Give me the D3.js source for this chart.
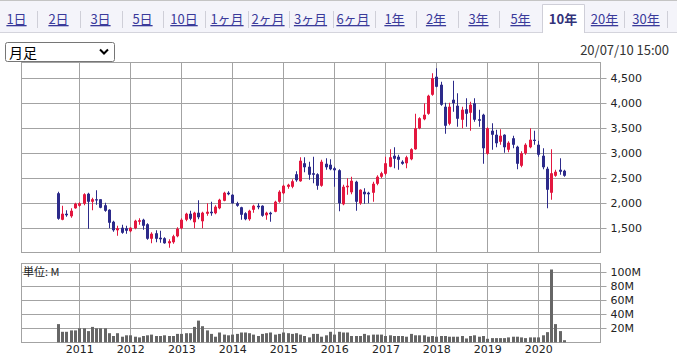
<!DOCTYPE html>
<html><head><meta charset="utf-8">
<script src="https://cdn.jsdelivr.net/npm/d3@7"></script>
<style>body{margin:0;background:#fff;overflow:hidden}svg{display:block}</style>
</head><body>
<svg id="c" width="677" height="355"></svg>
<script>
const months = [
 "2010-08","2010-09","2010-10","2010-11","2010-12",
 "2011-01","2011-02","2011-03","2011-04","2011-05","2011-06","2011-07","2011-08","2011-09","2011-10","2011-11","2011-12",
 "2012-01","2012-02","2012-03","2012-04","2012-05","2012-06","2012-07","2012-08","2012-09","2012-10","2012-11","2012-12",
 "2013-01","2013-02","2013-03","2013-04","2013-05","2013-06","2013-07","2013-08","2013-09","2013-10","2013-11","2013-12",
 "2014-01","2014-02","2014-03","2014-04","2014-05","2014-06","2014-07","2014-08","2014-09","2014-10","2014-11","2014-12",
 "2015-01","2015-02","2015-03","2015-04","2015-05","2015-06","2015-07","2015-08","2015-09","2015-10","2015-11","2015-12",
 "2016-01","2016-02","2016-03","2016-04","2016-05","2016-06","2016-07","2016-08","2016-09","2016-10","2016-11","2016-12",
 "2017-01","2017-02","2017-03","2017-04","2017-05","2017-06","2017-07","2017-08","2017-09","2017-10","2017-11","2017-12",
 "2018-01","2018-02","2018-03","2018-04","2018-05","2018-06","2018-07","2018-08","2018-09","2018-10","2018-11","2018-12",
 "2019-01","2019-02","2019-03","2019-04","2019-05","2019-06","2019-07","2019-08","2019-09","2019-10","2019-11","2019-12",
 "2020-01","2020-02","2020-03","2020-04","2020-05","2020-06","2020-07"];

const open = [
 2200,1670,1790,1740,1900,
 1950,1990,2190,2030,2080,2080,1960,1870,1630,1460,1510,1500,
 1440,1500,1630,1670,1580,1290,1400,1310,1300,1200,1220,1340,
 1500,1670,1790,1620,1810,1640,1790,1830,1800,1900,2050,2210,
 2170,2000,1920,1800,1680,1870,1950,1950,1760,1810,1830,2030,
 2200,2330,2330,2580,2440,2800,2730,2600,2580,2350,2790,2770,
 2700,2660,1980,2320,2220,2430,2000,2230,2210,2210,2390,2530,
 2590,2730,2950,2930,2830,2800,2880,3080,3500,3680,3790,4170,
 4530,4370,3930,3590,4070,3950,3670,3880,3810,4000,3680,3770,
 2990,3450,3370,3230,3370,3070,3300,3130,2750,3000,3120,3270,
 3170,2950,2690,2210,2550,2670,2650];
const high = [
 2230,1950,1860,1900,2010,
 2020,2200,2210,2110,2260,2080,2010,1880,1650,1550,1570,1550,
 1520,1670,1700,1690,1600,1420,1460,1450,1320,1280,1370,1520,
 1700,1810,1850,1830,2060,1830,2000,2030,1960,2090,2230,2240,
 2180,2030,1930,1820,1870,1970,2000,1960,1830,1830,2050,2260,
 2370,2390,2480,2640,2920,2920,2830,2930,2600,2870,2900,2880,
 2730,2680,2370,2500,2530,2450,2280,2300,2230,2430,2560,2630,
 2930,3080,3120,2970,2860,2950,3100,3790,3720,4000,4170,4600,
 4700,4430,4010,4010,4450,4200,3930,4100,4030,4100,3870,3790,
 3520,3600,3470,3480,3380,3240,3350,3150,3040,3200,3500,3450,
 3250,3100,2730,3080,2670,2900,2670];
const low = [
 1670,1660,1730,1710,1890,
 1930,1960,1490,1860,1970,1900,1830,1500,1430,1350,1390,1390,
 1420,1480,1570,1470,1270,1200,1220,1210,1190,1110,1190,1320,
 1480,1640,1660,1500,1680,1500,1750,1750,1780,1880,2040,2160,
 1990,1930,1670,1660,1650,1810,1880,1730,1670,1630,1820,2010,
 2180,2290,2300,2430,2430,2620,2470,2400,2270,2330,2670,2660,
 2330,1840,1960,2170,2180,1850,1970,1990,2000,2030,2360,2500,
 2560,2720,2700,2670,2770,2700,2860,3070,3480,3660,3770,4150,
 4320,3950,3390,3560,3830,3530,3500,3530,3450,3630,3530,2790,
 2970,3070,3120,3170,3010,3020,3100,2680,2720,2970,3100,3170,
 2930,2680,1900,2070,2530,2570,2530];
const close = [
 1690,1790,1760,1850,1990,
 2000,2180,2030,2080,2060,1910,1850,1610,1460,1500,1410,1450,
 1510,1650,1660,1550,1290,1390,1290,1280,1200,1240,1340,1490,
 1670,1790,1690,1810,1720,1810,1830,1800,1930,2070,2210,2180,
 2000,1950,1770,1680,1850,1950,1920,1750,1810,1780,2030,2230,
 2350,2370,2440,2460,2850,2720,2570,2570,2350,2830,2720,2680,
 2660,2000,2330,2350,2450,2030,2270,2180,2180,2390,2530,2600,
 2800,2920,2890,2870,2790,2920,3080,3500,3700,3770,4150,4500,
 4330,3970,3550,3930,4000,3690,3870,3790,3970,3670,3650,3100,
 3500,3370,3200,3350,3120,3210,3170,2790,3000,3170,3270,3250,
 2970,2720,2270,2600,2630,2630,2550];
const volume = [ // millions of shares
 26,15,15,17,17,
 20,20,16,22,20,20,20,13,9,13,8,10,
 10,8,7,9,10,11,9,9,10,9,9,12,
 12,13,13,22,31,23,17,12,8,14,11,10,
 11,12,14,14,13,11,9,12,13,14,11,12,
 14,13,12,13,11,9,7,12,12,8,10,15,
 11,15,14,14,9,9,9,12,10,11,11,11,
 9,10,9,9,9,8,12,10,10,10,8,9,
 8,9,9,8,8,8,9,5.5,9,10,8,9,
 5,6,6,6,6,7,8,8,7,6,7,7,
 7,10,14.5,104,26,16,3];

const priceTicks = [1500,2000,2500,3000,3500,4000,4500];
const volTicks = [20,40,60,80,100];
const yearTicks = ["2011","2012","2013","2014","2015","2016","2017","2018","2019","2020"];
const tabs = ["1日","2日","3日","5日","10日","1ヶ月","2ヶ月","3ヶ月","6ヶ月","1年","2年","3年","5年","10年","20年","30年"];
const activeTab = "10年";
const stamp = "20/07/10 15:00";
const periodLabel = "月足";
const unitLabel = "単位: M";

const parseM = d3.timeParse("%Y-%m");
const parseY = d3.timeParse("%Y");
const data = months.map((m,i)=>({d:parseM(m),o:open[i],h:high[i],l:low[i],c:close[i],v:volume[i]}));

const svg = d3.select("#c");
const FONT_JP = "'Noto Sans CJK JP','Noto Sans',sans-serif";
const FONT_AX = "'DejaVu Sans',sans-serif";
const GRID = "#a3a3a3";

// ---- tab bar ----
svg.append("rect").attr("x",0).attr("y",0).attr("width",677).attr("height",32).attr("fill","#f4f4fa");
svg.append("line").attr("x1",0).attr("x2",677).attr("y1",0.5).attr("y2",0.5).attr("stroke","#c4c4c4");
svg.append("line").attr("x1",0).attr("x2",677).attr("y1",32.5).attr("y2",32.5).attr("stroke","#d4d4dc");
const tabCenters = [16.5,58.5,100.5,142.5,184,227,268,310.5,353,394.5,436,478.5,520.5,563,604.5,646];
const seps = [37,80,122,163,205,248,289,333,375,416,458,499,624,667];
svg.selectAll("line.sep").data(seps).join("line").attr("class","sep")
  .attr("x1",d=>d+0.5).attr("x2",d=>d+0.5).attr("y1",11).attr("y2",28).attr("stroke","#cfcfd8");
svg.append("path").attr("d","M542.5,33 V4.5 H584.5 V33").attr("fill","#fff").attr("stroke","#cfcfd8");
svg.append("rect").attr("x",543).attr("y",5).attr("width",41).attr("height",29).attr("fill","#fff");
svg.selectAll("text.tab").data(tabs).join("text").attr("class","tab")
  .attr("x",(d,i)=>tabCenters[i]).attr("y",24).attr("text-anchor","middle")
  .attr("font-family",FONT_JP).attr("font-size",13)
  .attr("font-weight",d=>d===activeTab?"bold":"normal")
  .attr("fill",d=>d===activeTab?"#33337a":"#3a3a9a")
  .attr("text-decoration",d=>d===activeTab?"none":"underline")
  .text(d=>d);

// ---- select box & timestamp ----
svg.append("rect").attr("x",5.5).attr("y",42.5).attr("width",109).attr("height",19).attr("rx",2)
  .attr("fill","#fff").attr("stroke","#767676");
svg.append("text").attr("x",9).attr("y",57.5).attr("font-family",FONT_JP).attr("font-size",14).attr("fill","#000").text(periodLabel);
svg.append("path").attr("d","M100,49.5 L104,53.5 L108,49.5").attr("fill","none").attr("stroke","#000").attr("stroke-width",2);
svg.append("text").attr("x",669).attr("y",55).attr("text-anchor","end").attr("font-family",FONT_JP)
  .attr("font-size",13).attr("fill","#333").text(stamp);

// ---- scales ----
const L=21.5, R=600.5, PT=62.5, PB=252.5, VT=263.5, VB=342.5;
const x = d3.scaleTime().domain([parseY("2011"),parseY("2020")]).range([79.3,538.3]);
const yP = d3.scaleLinear().domain([1025,4825]).range([252,62]);
const yV = d3.scaleLinear().domain([0,112.86]).range([342.3,263.3]);
const snap = v=>Math.floor(v)+0.5;

// ---- price panel grid ----
const gP = svg.append("g");
gP.selectAll("line.h").data(priceTicks).join("line").attr("x1",L).attr("x2",R)
  .attr("y1",d=>snap(yP(d))).attr("y2",d=>snap(yP(d))).attr("stroke",GRID);
gP.selectAll("line.v").data(yearTicks).join("line").attr("y1",PT).attr("y2",PB)
  .attr("x1",d=>snap(x(parseY(d)))).attr("x2",d=>snap(x(parseY(d)))).attr("stroke",GRID);
gP.append("rect").attr("x",L).attr("y",PT).attr("width",R-L).attr("height",PB-PT).attr("fill","none").attr("stroke",GRID);

// price axis
const axP = svg.append("g").attr("transform",`translate(${R},0)`)
  .call(d3.axisRight(yP).tickValues(priceTicks).tickSize(6).tickPadding(4).tickFormat(d3.format(",")));
axP.select(".domain").remove();
axP.selectAll(".tick").attr("transform",d=>`translate(0,${snap(yP(d))})`);
axP.selectAll(".tick line").attr("stroke",GRID);
axP.selectAll(".tick text").attr("font-family",FONT_AX).attr("font-size",11).attr("fill","#222");

// candles
const red="#e3173f", blue="#2c2a8a";
const cg = svg.append("g");
data.forEach(d=>{
  const cx = Math.round(x(d.d));
  const col = d.c>=d.o ? red : blue;
  cg.append("line").attr("x1",cx+0.5).attr("x2",cx+0.5).attr("y1",yP(d.h)).attr("y2",yP(d.l))
    .attr("stroke",col).attr("stroke-width",1);
  const top = yP(Math.max(d.o,d.c)), bot = yP(Math.min(d.o,d.c));
  cg.append("rect").attr("x",cx-1).attr("width",3).attr("y",top).attr("height",Math.max(1.2,bot-top)).attr("fill",col);
});

// ---- volume panel ----
const gV = svg.append("g");
gV.selectAll("line.h").data(volTicks).join("line").attr("x1",L).attr("x2",R)
  .attr("y1",d=>snap(yV(d))).attr("y2",d=>snap(yV(d))).attr("stroke",GRID);
gV.selectAll("line.v").data(yearTicks).join("line").attr("y1",VT).attr("y2",VB)
  .attr("x1",d=>snap(x(parseY(d)))).attr("x2",d=>snap(x(parseY(d)))).attr("stroke",GRID);
gV.append("rect").attr("x",L).attr("y",VT).attr("width",R-L).attr("height",VB-VT).attr("fill","none").attr("stroke",GRID);

const axV = svg.append("g").attr("transform",`translate(${R},0)`)
  .call(d3.axisRight(yV).tickValues(volTicks).tickSize(6).tickPadding(4).tickFormat(d=>d+"M"));
axV.select(".domain").remove();
axV.selectAll(".tick").attr("transform",d=>`translate(0,${snap(yV(d))})`);
axV.selectAll(".tick line").attr("stroke",GRID);
axV.selectAll(".tick text").attr("font-family",FONT_AX).attr("font-size",11).attr("fill","#222");

svg.append("g").selectAll("rect").data(data).join("rect")
  .attr("x",d=>Math.round(x(d.d))-1).attr("width",3)
  .attr("y",d=>yV(d.v)).attr("height",d=>342.3-yV(d.v)).attr("fill","#666");

svg.append("text").attr("x",23).attr("y",276).attr("font-family",FONT_JP).attr("font-size",11)
  .attr("fill","#222").text(unitLabel);

// x axis
const axX = svg.append("g").attr("transform",`translate(0,${VB})`)
  .call(d3.axisBottom(x).tickValues(yearTicks.map(parseY)).tickSize(0).tickPadding(3).tickFormat(d3.timeFormat("%Y")));
axX.select(".domain").remove();
axX.selectAll(".tick text").attr("font-family",FONT_AX).attr("font-size",11).attr("fill","#222");
</script>
</body></html>
